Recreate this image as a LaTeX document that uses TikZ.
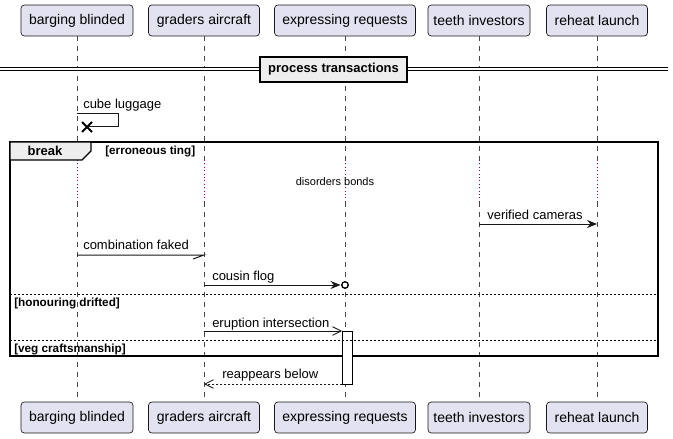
\documentclass[tikz,border=0pt]{standalone}
\usepackage{fontspec}
\setmainfont{Liberation Sans}
\usetikzlibrary{arrows.meta,calc}
\definecolor{partfill}{HTML}{E2E2F0}
\definecolor{partline}{HTML}{181818}
\definecolor{grpfill}{HTML}{EEEEEE}
\definecolor{delayred}{HTML}{A80036}
\tikzset{
  part/.style={draw=partline, fill=partfill, rounded corners=2.5pt, line width=0.5pt,
    minimum height=23.25pt, inner sep=0pt, font=\fontsize{10.5pt}{12pt}\selectfont},
  life/.style={draw=partline!80, line width=0.5pt, dash pattern=on 3.75pt off 3.75pt},
  delayline/.style={draw=delayred, line width=0.75pt, dash pattern=on 0.75pt off 1.8pt},
  msg/.style={draw=partline, line width=0.75pt},
  msgtxt/.style={anchor=base west, inner sep=0pt, font=\fontsize{9.75pt}{11pt}\selectfont},
  grptxt/.style={anchor=base west, inner sep=0pt, font=\bfseries\fontsize{8.8pt}{10pt}\selectfont},
  filltip/.style={-{Stealth[length=7.5pt,width=6pt,inset=2.5pt]}},
  opentip/.style={-{Straight Barb[length=6.5pt,width=6.5pt,line width=0.6pt]}},
}
\begin{document}
\begin{tikzpicture}[x=0.75pt,y=-0.75pt]
\useasboundingbox (0,0) rectangle (673,438);
% participants
\foreach \n/\x/\w/\t in {a/77/112/barging blinded, b/204/111/graders aircraft, c/345/141/expressing requests, d/479/102/teeth investors, e/597/101/reheat launch}{
  \node[part, minimum width=\w*0.75pt] (\n top) at (\x,20.5) {\t};
  \node[part, minimum width=\w*0.75pt] (\n bot) at (\x,417.5) {\t};
  \coordinate (\n d1) at (\x,160);
  \coordinate (\n d2) at (\x,202);
  \draw[life] (\n top.south) -- (\n d1);
  \draw[delayline] (\n d1) -- (\n d2);
  \draw[life] (\n d2) -- (\n bot.north);
}
% divider
\coordinate (dl) at (0,69.5);
\coordinate (dr) at (668,69.5);
\draw[line width=0.75pt, double distance=1.5pt, draw=black] (dl) -- (dr);
\node[draw=black, line width=1.3pt, fill=grpfill, minimum width=147*0.75pt, minimum height=25*0.75pt,
  inner sep=0pt, font=\bfseries\fontsize{9.75pt}{11pt}\selectfont] (div) at (333.5,69.5) {process transactions};
% self message with destroy
\coordinate (s1) at (77,114);
\coordinate (s2) at (118,114);
\coordinate (s3) at (118,127);
\coordinate (s4) at (87,127);
\draw[msg] (s1) -- (s2) -- (s3) -- (s4);
\draw[line width=1.5pt] ($(s4)+(-5,-5)$) -- ($(s4)+(5,5)$) ($(s4)+(-5,5)$) -- ($(s4)+(5,-5)$);
\node[msgtxt] (t0) at (83,109) {cube luggage};
% break frame
\draw[line width=1.3pt, draw=black] (10,142) rectangle (658,356);
\path[fill=grpfill, draw=black, line width=1pt] (10,142) -- (91,142) -- (91,151) -- (82,160) -- (10,160) -- cycle;
\node[anchor=base, inner sep=0pt, font=\bfseries\fontsize{9.75pt}{11pt}\selectfont] (brk) at (45,155.5) {break};
\node[grptxt] (g1) at (105,155) {[erroneous ting]};
\node[anchor=base, inner sep=0pt, font=\fontsize{8.25pt}{10pt}\selectfont] (dly) at (335,185.5) {disorders bonds};
% verified cameras
\coordinate (m1a) at (479,224);
\coordinate (m1b) at (597,224);
\draw[msg, filltip] (m1a) -- (m1b);
\node[msgtxt] (t1) at (487,219) {verified cameras};
% combination faked
\coordinate (m2a) at (77,255);
\coordinate (m2b) at (204,255);
\draw[msg] (m2a) -- (m2b) -- (193,259);
\node[msgtxt] (t2) at (83,249.5) {combination faked};
% cousin flog
\coordinate (m3a) at (204,285);
\coordinate (m3b) at (340.5,285);
\draw[msg, filltip] (m3a) -- (m3b);
\node[draw=black, circle, line width=1pt, minimum size=6.5*0.75pt, inner sep=0pt, fill=white] (circ) at (345,285) {};
\node[msgtxt] (t3) at (212,280) {cousin flog};
% separator 1
\coordinate (sp1a) at (10,294);
\coordinate (sp1b) at (658,294);
\draw[line width=0.75pt, dash pattern=on 1.5pt off 1.5pt] (sp1a) -- (sp1b);
\node[grptxt] (g2) at (14,306) {[honouring drifted]};
% activation
\draw[draw=black, fill=white, line width=0.75pt] (342,331) rectangle (352,384);
% eruption intersection
\coordinate (m4a) at (204,331);
\coordinate (m4b) at (342,331);
\draw[msg, opentip] (m4a) -- (m4b);
\node[msgtxt] (t4) at (212,327) {eruption intersection};
% separator 2
\coordinate (sp2a) at (10,340);
\coordinate (sp2b) at (658,340);
\draw[line width=0.75pt, dash pattern=on 1.5pt off 1.5pt] (sp2a) -- (sp2b);
\node[grptxt] (g3) at (14,352.5) {[veg craftsmanship]};
% reappears below
\coordinate (m5a) at (342,384);
\coordinate (m5b) at (204,384);
\draw[msg, opentip, dash pattern=on 1.5pt off 1.5pt] (m5a) -- (m5b);
\node[msgtxt] (t5) at (222,378) {reappears below};
\end{tikzpicture}
\end{document}
